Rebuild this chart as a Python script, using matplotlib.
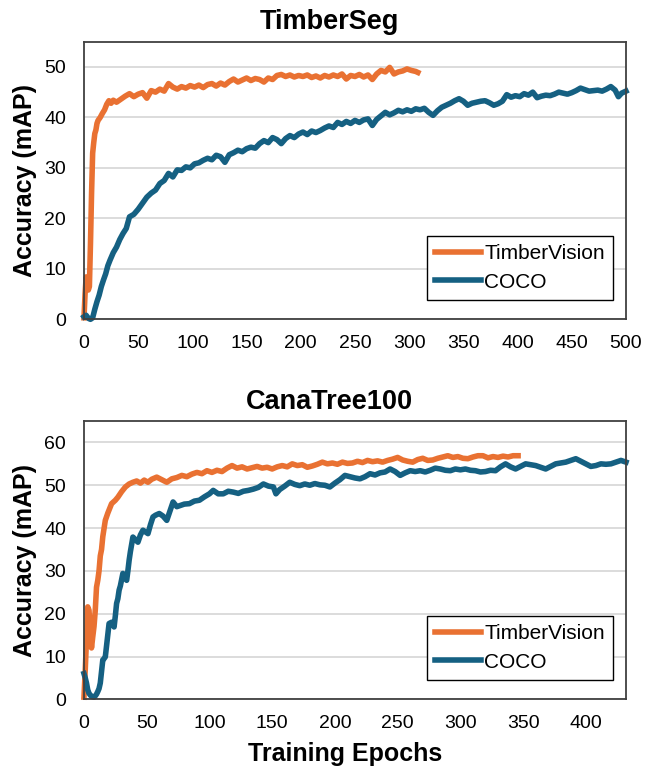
import matplotlib
matplotlib.use("Agg")
import matplotlib.pyplot as plt

plt.rcParams['font.family'] = ['Liberation Sans', 'DejaVu Sans']

ORANGE = '#E97132'
BLUE = '#156082'

# ---- TimberSeg ----
ts_tv_ep = [0, 1, 2, 3, 4, 5, 6, 7, 8, 9, 10, 11, 12, 13, 15, 17, 19, 21, 23, 25, 27,
            30, 34, 38, 42, 46, 50, 54, 58, 62, 66, 70, 74, 78, 82, 86, 90, 94, 98,
            102, 106, 110, 114, 118, 122, 126, 130, 134, 138, 142, 146, 150, 154, 158,
            162, 166, 170, 174, 178, 182, 186, 190, 194, 198, 202, 206, 210, 214, 218,
            222, 226, 230, 234, 238, 242, 246, 250, 254, 258, 262, 266, 270, 274, 278,
            282, 286, 290, 294, 298, 302, 306, 308]
ts_tv_acc = [0.3, 5.0, 8.4, 7.5, 5.8, 6.5, 15.0, 25.0, 32.9, 35.0, 36.8, 37.5, 38.8, 39.4,
             40.0, 40.8, 41.5, 42.6, 43.3, 42.8, 43.4,
             43.0, 43.6, 44.2, 44.7, 44.1, 44.6, 44.9, 43.8, 45.3, 45.0, 45.6, 45.2, 46.7,
             46.0, 45.6, 46.1, 45.8, 46.3, 46.0, 46.4, 45.9, 46.5, 46.7, 46.2, 46.8, 46.4,
             47.1, 47.6, 47.0, 47.4, 47.8, 47.3, 47.7, 47.5, 47.0, 47.8, 47.5, 48.3, 48.5,
             48.1, 48.4, 48.0, 48.3, 48.1, 48.4, 47.9, 48.2, 47.8, 48.3, 48.0, 48.4, 48.1,
             48.6, 47.6, 48.3, 48.1, 48.5, 48.0, 48.4, 47.5, 48.6, 49.3, 49.0, 49.9, 48.6,
             49.0, 49.2, 49.6, 49.3, 49.1, 48.9]

ts_coco_ep = [0, 2, 4, 6, 8, 10, 12, 14, 16, 18, 20, 22, 24, 27, 30, 33, 36, 39, 42, 46,
              50, 54, 58, 62, 66, 70, 74, 78, 82, 86, 90, 94, 98, 102, 106, 110, 114, 118,
              122, 126, 130, 134, 138, 142, 146, 150, 154, 158, 162, 166, 170, 174, 178,
              182, 186, 190, 194, 198, 202, 206, 210, 214, 218, 222, 226, 230, 234, 238,
              242, 246, 250, 254, 258, 262, 266, 270, 274, 278, 282, 286, 290, 294, 298,
              302, 306, 310, 314, 318, 322, 326, 330, 334, 338, 342, 346, 350, 354, 358,
              362, 366, 370, 374, 378, 382, 386, 390, 394, 398, 402, 406, 410, 414, 418,
              422, 426, 430, 434, 438, 442, 446, 450, 454, 458, 462, 466, 470, 474, 478,
              482, 486, 490, 493, 496, 500]
ts_coco_acc = [0.5, 0.8, 0.2, 0.0, 0.3, 2.0, 3.5, 4.8, 6.5, 7.8, 9.0, 10.6, 11.7, 13.2,
               14.3, 15.8, 17.0, 18.0, 20.3, 20.8, 21.8, 23.0, 24.2, 25.0, 25.6, 26.9,
               27.5, 28.9, 28.2, 29.6, 29.5, 30.2, 30.0, 30.8, 31.0, 31.5, 31.9, 31.6,
               32.5, 32.2, 31.1, 32.6, 33.0, 33.5, 33.2, 33.8, 34.1, 33.9, 34.8, 35.4,
               35.0, 36.0, 35.6, 34.8, 35.8, 36.4, 36.0, 36.7, 37.1, 36.6, 37.3, 37.0,
               37.4, 37.9, 38.3, 38.0, 39.0, 38.6, 39.2, 38.8, 39.4, 39.0, 39.5, 39.7,
               38.4, 39.6, 40.3, 41.0, 40.5, 40.9, 41.4, 41.1, 41.5, 41.2, 41.7, 41.5,
               41.8, 41.0, 40.4, 41.3, 42.0, 42.4, 42.8, 43.3, 43.7, 43.2, 42.4, 42.8,
               43.0, 43.2, 43.3, 42.9, 42.4, 42.7, 43.2, 44.5, 44.0, 44.3, 44.1, 44.7,
               44.4, 45.0, 43.9, 44.2, 44.4, 44.3, 44.6, 45.0, 44.8, 44.6, 44.9, 45.3,
               45.8, 45.5, 45.2, 45.3, 45.4, 45.2, 45.6, 46.1, 45.4, 44.1, 44.8, 45.2]

# ---- CanaTree100 ----
ct_tv_ep = [0, 1, 2, 3, 4, 5, 6, 7, 8, 9, 10, 11, 12, 13, 14, 15, 17, 19, 22, 25, 27, 30,
            33, 36, 39, 42, 45, 48, 51, 54, 58, 62, 66, 70, 74, 78, 82, 86, 90, 94, 98,
            102, 106, 110, 114, 118, 122, 126, 130, 134, 138, 142, 146, 150, 154, 158,
            162, 166, 170, 174, 178, 182, 186, 190, 194, 198, 202, 206, 210, 214, 218,
            222, 226, 230, 234, 238, 242, 246, 250, 254, 258, 262, 266, 270, 274, 278,
            282, 286, 290, 294, 298, 302, 306, 310, 314, 318, 322, 326, 330, 334, 338,
            342, 346]
ct_tv_acc = [0.5, 6.8, 14.0, 21.6, 20.8, 16.0, 12.0, 14.6, 17.0, 20.8, 26.2, 27.8, 30.0,
             33.5, 35.0, 38.0, 41.8, 43.5, 45.7, 46.5, 47.2, 48.5, 49.6, 50.3, 50.7, 51.0,
             50.5, 51.2, 50.7, 51.4, 51.9, 51.3, 50.7, 51.5, 51.8, 52.3, 52.0, 52.6, 53.0,
             52.7, 53.4, 53.0, 53.5, 53.2, 54.0, 54.6, 54.0, 54.3, 53.8, 54.1, 54.4, 54.0,
             54.2, 53.8, 54.3, 54.6, 54.3, 55.0, 54.6, 54.8, 54.2, 54.5, 54.9, 55.4, 55.0,
             55.2, 54.9, 55.4, 55.1, 55.2, 55.6, 55.3, 55.8, 55.5, 55.7, 55.4, 55.8, 56.1,
             56.5, 55.9, 55.6, 55.4, 56.0, 56.3, 55.8, 55.9, 56.3, 56.6, 56.9, 56.5, 56.7,
             56.3, 56.2, 56.6, 56.9, 56.9, 56.4, 56.7, 56.5, 56.8, 56.6, 56.9, 56.9]

ct_coco_ep = [0, 1, 2, 3, 4, 5, 6, 7, 8, 9, 10, 11, 12, 13, 14, 15, 16, 17, 18, 19, 20,
              22, 23, 24, 25, 26, 27, 28, 29, 30, 31, 32, 34, 35, 36, 37, 38, 39, 41, 43,
              45, 47, 49, 51, 53, 55, 57, 60, 63, 66, 68, 71, 74, 77, 80, 84, 88, 92, 96,
              100, 103, 107, 111, 115, 119, 123, 127, 131, 135, 139, 143, 147, 151, 153,
              156, 160, 164, 168, 172, 176, 180, 184, 188, 192, 196, 200, 204, 208, 212,
              216, 220, 224, 228, 232, 236, 240, 244, 248, 252, 256, 260, 264, 268, 272,
              276, 280, 284, 288, 292, 296, 300, 304, 308, 312, 316, 320, 324, 328, 332,
              336, 340, 344, 348, 352, 356, 360, 364, 368, 372, 376, 380, 384, 388, 392,
              396, 400, 404, 408, 412, 416, 420, 424, 428, 432]
ct_coco_acc = [6.0, 5.0, 3.8, 2.2, 1.4, 1.0, 0.7, 0.6, 0.5, 0.8, 1.2, 1.8, 2.5, 3.8, 6.5,
               9.2, 9.5, 9.9, 12.5, 15.0, 17.7, 18.0, 17.7, 16.9, 19.5, 22.4, 23.5, 25.5,
               26.5, 28.0, 29.4, 28.9, 27.8, 30.0, 32.5, 34.5, 36.2, 37.9, 37.3, 36.7,
               38.4, 39.5, 39.1, 38.7, 40.8, 42.6, 43.0, 43.4, 42.8, 41.8, 43.5, 46.1,
               45.0, 45.3, 45.6, 45.7, 46.3, 46.5, 47.3, 48.0, 48.8, 48.0, 48.0, 48.6,
               48.4, 48.1, 48.6, 48.8, 49.1, 49.5, 50.3, 49.8, 49.6, 48.0, 49.0, 49.8,
               50.7, 50.2, 49.9, 50.3, 50.0, 50.4, 50.1, 50.0, 49.6, 50.5, 51.3, 52.3,
               52.0, 51.7, 51.5, 52.0, 52.7, 52.4, 52.9, 53.1, 53.8, 53.2, 52.3, 52.9,
               53.4, 53.2, 53.4, 53.1, 53.5, 54.0, 53.8, 53.5, 53.4, 53.8, 53.6, 53.8,
               53.5, 53.4, 53.1, 53.2, 53.5, 53.4, 54.3, 55.0, 54.3, 53.8, 54.4, 55.0,
               54.8, 54.6, 54.2, 53.8, 54.4, 55.0, 55.2, 55.4, 55.8, 56.2, 55.6, 55.0,
               54.4, 54.6, 55.0, 54.9, 55.0, 55.4, 55.8, 55.4]

panels = [
    dict(title='TimberSeg', tv=(ts_tv_ep, ts_tv_acc), coco=(ts_coco_ep, ts_coco_acc),
         xlim=500, xticks=range(0, 501, 50), ylim=55, yticks=range(0, 51, 10),
         pos=[0.1288, 0.5853, 0.8313, 0.3606]),
    dict(title='CanaTree100', tv=(ct_tv_ep, ct_tv_acc), coco=(ct_coco_ep, ct_coco_acc),
         xlim=432, xticks=range(0, 401, 50), ylim=65, yticks=range(0, 61, 10),
         pos=[0.1288, 0.0918, 0.8313, 0.3614]),
]

fig = plt.figure(figsize=(6.52, 7.70), dpi=100)

for i, p in enumerate(panels):
    ax = fig.add_axes(p['pos'])
    ax.plot(*p['tv'], color=ORANGE, lw=4, label='TimberVision', clip_on=False,
            solid_joinstyle='round')
    ax.plot(*p['coco'], color=BLUE, lw=4, label='COCO', clip_on=False,
            solid_joinstyle='round')
    ax.set_xlim(0, p['xlim'])
    ax.set_ylim(0, p['ylim'])
    ax.set_xticks(list(p['xticks']))
    ax.set_yticks(list(p['yticks']))
    ax.tick_params(length=0, labelsize=14)
    ax.tick_params(axis='x', pad=11)
    ax.tick_params(axis='y', pad=13)
    ax.grid(axis='y', color='#d9d9d9', lw=1.3)
    ax.set_axisbelow(True)
    for s in ax.spines.values():
        s.set_color('#404040')
        s.set_linewidth(1.3)
    # titles sit at the figure centre, not the axes centre
    top = p['pos'][1] + p['pos'][3]
    fig.text(0.506, top + 0.008, p['title'], ha='center', va='bottom',
             fontsize=19.5, fontweight='bold')
    ax.set_ylabel('Accuracy (mAP)', fontsize=18, fontweight='bold')
    ax.yaxis.set_label_coords(-0.087, 0.5)
    if i == 1:
        ax.set_xlabel('Training Epochs', fontsize=18, fontweight='bold')
        ax.xaxis.set_label_coords(0.4815, -0.155)
    leg = ax.legend(loc='lower right', bbox_to_anchor=(0.976, 0.07), fontsize=15,
                    frameon=True, fancybox=False, edgecolor='black', framealpha=1,
                    handlelength=2.2, handletextpad=0.15, labelspacing=0.45,
                    borderpad=0.4, borderaxespad=0)
    leg.get_frame().set_linewidth(1.0)

fig.savefig('out.png', dpi=100)
